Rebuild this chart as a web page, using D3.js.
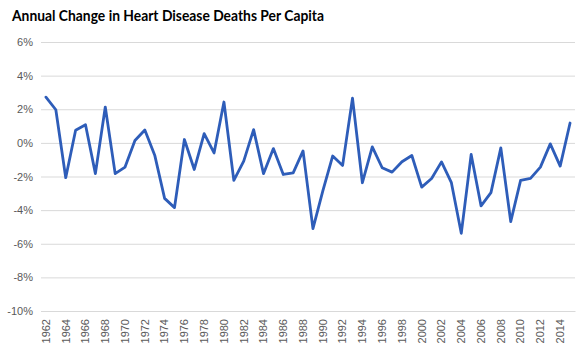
<!DOCTYPE html>
<html><head><meta charset="utf-8">
<script src="https://cdn.jsdelivr.net/npm/d3@7"></script>
<style>body{margin:0;background:#fff}svg{display:block}</style>
</head><body>
<script>
const title = "Annual Change in Heart Disease Deaths Per Capita";
const years = d3.range(1962, 2016).map(String);
const values = [2.72, 1.97, -2.07, 0.75, 1.08, -1.83, 2.13, -1.83, -1.44, 0.14,
  0.77, -0.73, -3.3, -3.85, 0.2, -1.58, 0.55, -0.6, 2.43, -2.23,
  -1.09, 0.79, -1.83, -0.34, -1.88, -1.78, -0.48, -5.1, -2.85, -0.78,
  -1.34, 2.66, -2.37, -0.24, -1.48, -1.74, -1.12, -0.75, -2.63, -2.12,
  -1.13, -2.37, -5.38, -0.69, -3.75, -2.96, -0.3, -4.68, -2.23, -2.11,
  -1.44, -0.06, -1.38, 1.18];
const yTicks = [6, 4, 2, 0, -2, -4, -6, -8, -10];
const xTickLabels = years.filter((d, i) => i % 2 === 0);

const W = 587, H = 347;
const m = {left: 41, right: 12, top: 42, bottom: 36};
const svg = d3.select("body").append("svg").attr("width", W).attr("height", H);

const x = d3.scaleBand().domain(years).range([m.left, W - m.right]);
const y = d3.scaleLinear().domain([-10, 6]).range([H - m.bottom, m.top]);

svg.append("text").attr("x", 12).attr("y", 21)
  .attr("font-family", "Lato, 'Open Sans', sans-serif").attr("font-weight", "bold")
  .attr("font-size", 16).attr("fill", "#000")
  .attr("textLength", 312).attr("lengthAdjust", "spacingAndGlyphs").text(title);

// gridlines
const yAxis = d3.axisLeft(y).tickValues(yTicks).tickSize(-(W - m.left - m.right))
  .tickPadding(8).tickFormat(d => d + "%");
const gy = svg.append("g").attr("transform", `translate(${m.left},0)`).call(yAxis);
gy.select(".domain").remove();
gy.selectAll(".tick line").attr("stroke", "#d9d9d9").attr("stroke-width", 1);
gy.selectAll(".tick text").attr("fill", "#595959").attr("font-size", 11)
  .attr("font-family", "'Liberation Sans', Arial, sans-serif");

const xAxis = d3.axisBottom(x).tickValues(xTickLabels).tickSize(0).tickPadding(0);
const gx = svg.append("g").attr("transform", `translate(0,${y(-10)})`).call(xAxis);
gx.select(".domain").attr("stroke", "#d9d9d9");
gx.selectAll(".tick text")
  .attr("fill", "#595959").attr("font-size", 11)
  .attr("font-family", "'Liberation Sans', Arial, sans-serif")
  .attr("transform", "rotate(-90)")
  .attr("text-anchor", "end")
  .attr("x", -8).attr("y", 0).attr("dy", "0.35em");

const line = d3.line().x((d, i) => x(years[i]) + x.bandwidth() / 2).y(d => y(d));
svg.append("path").datum(values).attr("d", line)
  .attr("fill", "none").attr("stroke", "#2E5DB9").attr("stroke-width", 2.8)
  .attr("stroke-linejoin", "round").attr("stroke-linecap", "round");
</script>
</body></html>
